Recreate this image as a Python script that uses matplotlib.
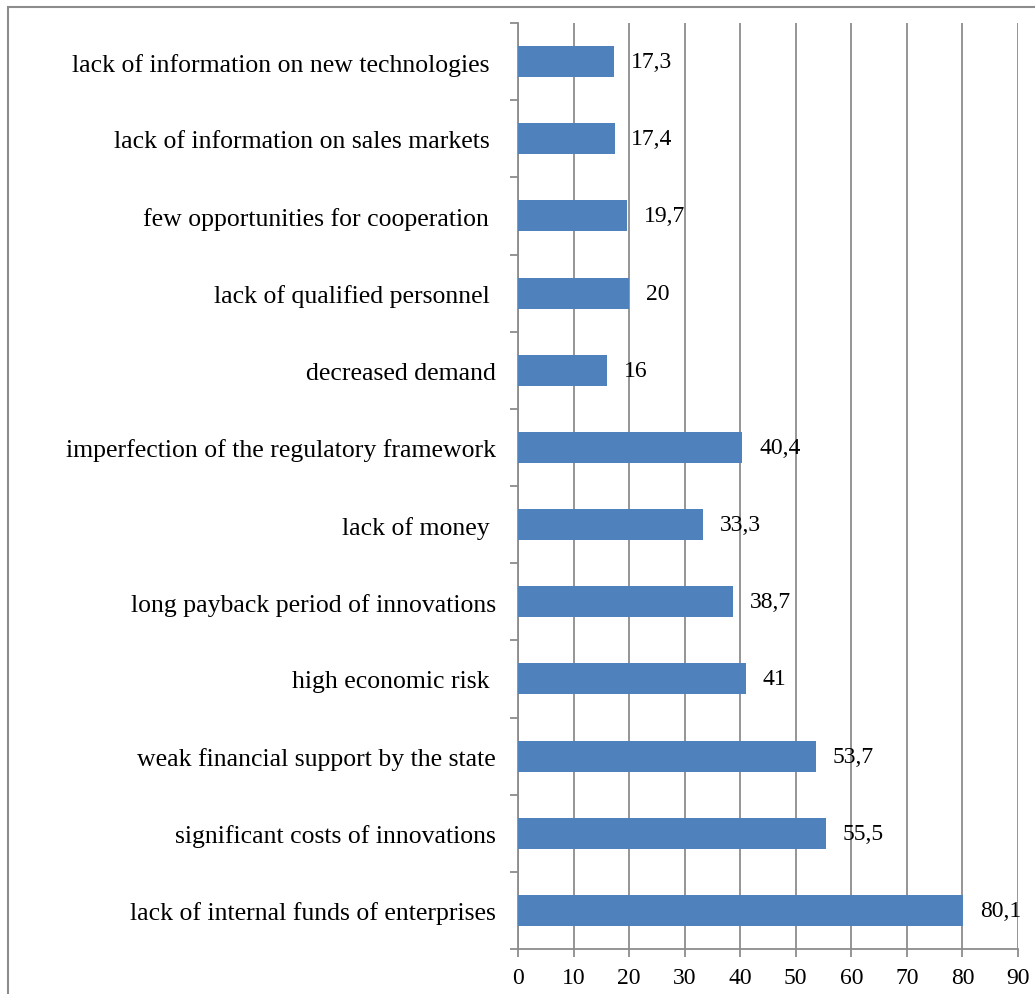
import matplotlib.pyplot as plt
from matplotlib.patches import Rectangle

categories = [
    "lack of internal funds of enterprises",
    "significant costs of innovations",
    "weak financial support by the state",
    "high economic risk ",
    "long payback period of innovations",
    "lack of money ",
    "imperfection of the regulatory framework",
    "decreased demand",
    "lack of qualified personnel ",
    "few opportunities for cooperation ",
    "lack of information on sales markets ",
    "lack of information on new technologies ",
]
values = [80.1, 55.5, 53.7, 41, 38.7, 33.3, 40.4, 16, 20, 19.7, 17.4, 17.3]
xticks = list(range(0, 100, 10))

plt.rcParams['font.family'] = ['Liberation Serif', 'DejaVu Serif']
plt.rcParams['font.size'] = 17

fig = plt.figure(figsize=(10.35, 9.95), dpi=100)
ax = fig.add_axes([518 / 1035, 45 / 995, 500 / 1035, 926 / 995])

grey = "#8c8c8c"
pos = list(range(len(categories)))
bars = ax.barh(pos, values, height=0.4, color="#4f81bd", zorder=3)
labels = [f"{v:g}".replace(".", ",") for v in values]
ax.bar_label(bars, labels=labels, padding=12, fontsize=17)

ax.set_xlim(0, 90)
ax.set_ylim(-0.5, len(categories) - 0.5)
ax.set_xticks(xticks)
ax.set_yticks(pos)
ax.set_yticklabels(categories, fontsize=18.5)
ax.set_yticks([p - 0.5 for p in range(len(categories) + 1)], minor=True)
ax.tick_params(axis="y", which="major", length=0, pad=16)
ax.tick_params(axis="y", which="minor", length=6, width=1.3, color=grey)
ax.tick_params(axis="x", length=6, width=1.3, color=grey, pad=7)
ax.xaxis.grid(True, color=grey, linewidth=1.3, zorder=0)

for s in ["top", "right"]:
    ax.spines[s].set_visible(False)
for s in ["left", "bottom"]:
    ax.spines[s].set_color(grey)
    ax.spines[s].set_linewidth(1.3)

fig.patches.append(Rectangle((8 / 1035, -0.1), 1.2, 987 / 995 + 0.1,
                             transform=fig.transFigure, fill=False,
                             edgecolor=grey, linewidth=1.5))

fig.savefig("out.png", dpi=100)
